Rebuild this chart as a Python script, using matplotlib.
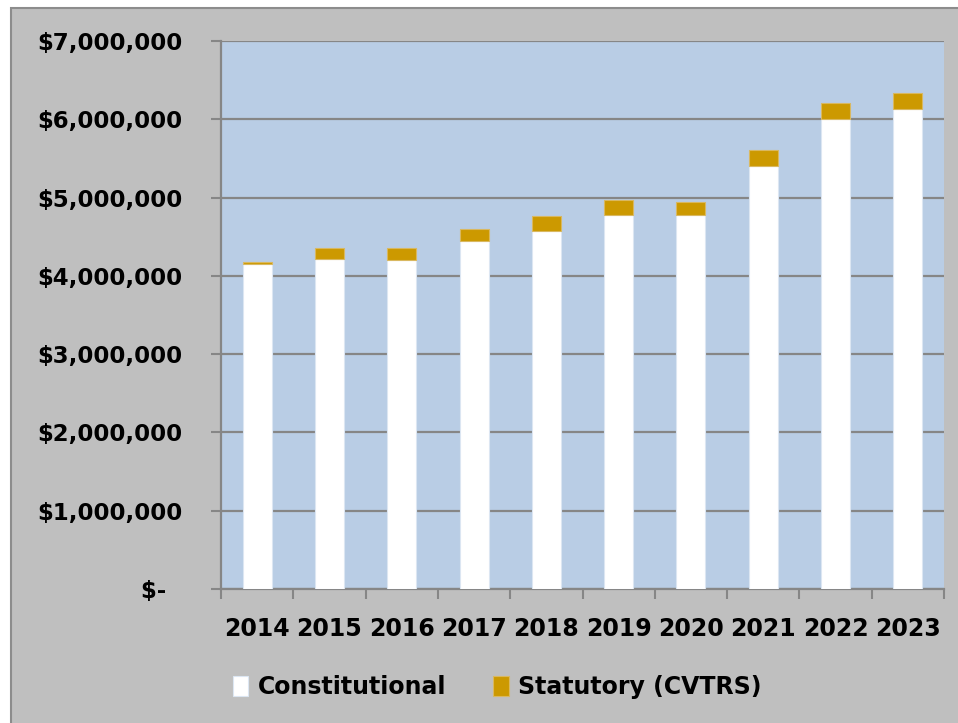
import matplotlib
matplotlib.use('Agg')
import numpy as np
import matplotlib.pyplot as plt
from matplotlib.patches import Rectangle
from matplotlib.ticker import FuncFormatter, MultipleLocator

years = ['2014', '2015', '2016', '2017', '2018', '2019', '2020', '2021', '2022', '2023']
constitutional = [4147000, 4211000, 4206000, 4449000, 4569000, 4773000, 4773000, 5407000, 6003000, 6131000]
statutory = [30000, 149000, 150000, 149000, 195000, 196000, 166000, 200000, 205000, 208000]


def money(v, pos):
    """ 会计格式的美元标签 """
    if v == 0:
        return '$-  '
    return '${:,.0f}'.format(v)


plt.rcParams['font.family'] = 'DejaVu Sans'
plt.rcParams['font.weight'] = 'bold'

fig = plt.figure(figsize=(9.58, 7.23), dpi=100, facecolor='white')
# 灰色图表区域和边框
bg = Rectangle((11 / 958, -0.05), 1.0, 715 / 723 + 0.05, transform=fig.transFigure,
               facecolor='#bfbfbf', edgecolor='#8c8c8c', linewidth=1.5, zorder=-10)
fig.add_artist(bg)

ax = fig.add_axes([221 / 958, 134 / 723, 723 / 958, 548 / 723])
ax.set_zorder(1)
ax.set_facecolor('#b9cde5')

x = np.arange(len(years))
ax.bar(x, constitutional, width=0.4, color='white', edgecolor='#dce6f2', linewidth=0.8,
       label='Constitutional', zorder=3)
ax.bar(x, statutory, width=0.4, bottom=constitutional, color='#cc9900', edgecolor='#d9b860',
       linewidth=0.8, label='Statutory (CVTRS)', zorder=3)

ax.set_xlim(-0.5, len(years) - 0.5)
ax.set_ylim(0, 7000000)
ax.yaxis.set_major_locator(MultipleLocator(1000000))
ax.yaxis.set_major_formatter(FuncFormatter(money))
ax.grid(axis='y', color='#868686', linewidth=1.6, zorder=1)
ax.set_axisbelow(True)

ax.set_xticks(x)
ax.set_xticklabels(years)
ax.set_xticks(np.arange(-0.5, len(years)), minor=True)
ax.tick_params(axis='x', which='major', length=0, pad=20, labelsize=17)
ax.tick_params(axis='x', which='minor', length=7, width=1.5, color='#868686', direction='out')
ax.tick_params(axis='y', length=7, width=1.5, color='#868686', pad=21, labelsize=16.5)

for s in ['top', 'right']:
    ax.spines[s].set_visible(False)
for s in ['left', 'bottom']:
    ax.spines[s].set_color('#868686')
    ax.spines[s].set_linewidth(1.6)

fig.legend(loc='center', bbox_to_anchor=(0.519, 0.05), ncol=2, frameon=False,
           fontsize=17, handlelength=0.65, handleheight=0.9, handletextpad=0.4,
           columnspacing=2.0)

plt.savefig('out.png', dpi=100, facecolor=fig.get_facecolor())
plt.close()
